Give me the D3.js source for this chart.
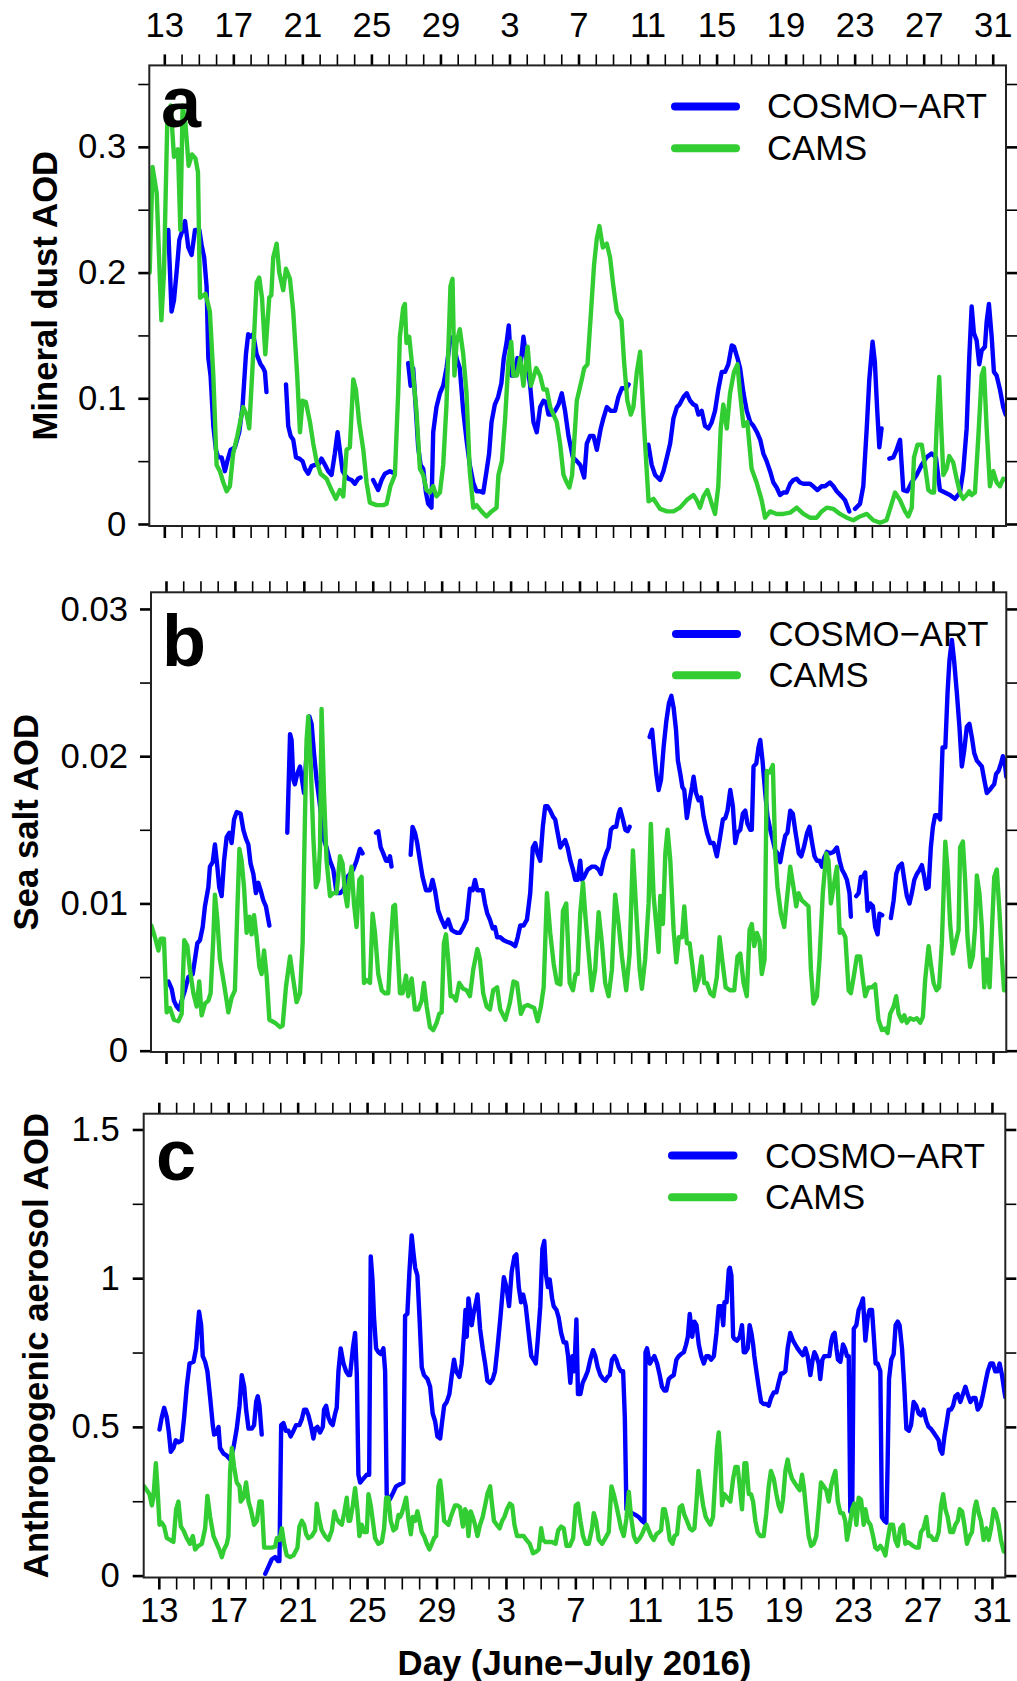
<!DOCTYPE html>
<meta charset="utf-8">
<style>
body { margin: 0; background: #fff; }
svg { display: block; font-family: "Liberation Sans", Arial, Helvetica, sans-serif; }
.axis path { display: none; }
.axis text { font-size: 34.7px; fill: #000; }
.axis .tick line { stroke: #000; }
.major .tick line { stroke-width: 2.6px; }
.minor .tick line { stroke-width: 1.6px; }
.frame { fill: none; stroke: #222; stroke-width: 2px; }
.series { fill: none; stroke-width: 4.4px; stroke-linejoin: round; stroke-linecap: round; }
.ytitle, .xtitle { font-size: 34.7px; font-weight: bold; }
.letter { font-size: 72px; font-weight: bold; }
.legend text { font-size: 34.7px; }
.legend line { stroke-width: 8px; stroke-linecap: round; }
</style>
<body>
<div id="chart"></div>
<script src="https://cdn.jsdelivr.net/npm/d3@7"></script>
<script>
// days counted from 13 June 2016 (=0) to 31 July (=48)
var dayTicks = [0, 4, 8, 12, 16, 20, 24, 28, 32, 36, 40, 44, 48];
var dayLabels = ["13", "17", "21", "25", "29", "3", "7", "11", "15", "19", "23", "27", "31"];
var seriesNames = ["COSMO\u2212ART", "CAMS"];
var seriesColors = ["#0000ff", "#32cd32"];

var dustTicks = [0, 0.1, 0.2, 0.3], dustLabels = ["0", "0.1", "0.2", "0.3"], dustMinor = [0.05, 0.15, 0.25, 0.35];
var saltTicks = [0, 0.01, 0.02, 0.03], saltLabels = ["0", "0.01", "0.02", "0.03"], saltMinor = [0.005, 0.015, 0.025];
var anthTicks = [0, 0.5, 1, 1.5], anthLabels = ["0", "0.5", "1", "1.5"], anthMinor = [0.25, 0.75, 1.25];

// [day, AOD]; null = gap in the model output
var dustCosmo = [[0.23,0.234],[0.42,0.169],[0.56,0.178],[0.71,0.2],[0.87,0.226],[1.06,0.234],[1.2,0.241],[1.39,0.22],[1.58,0.214],[1.78,0.234],[2.03,0.234],[2.16,0.222],[2.31,0.212],[2.45,0.189],[2.55,0.132],[2.68,0.118],[2.84,0.078],[2.99,0.059],[3.13,0.053],[3.32,0.053],[3.51,0.042],[3.65,0.05],[3.84,0.059],[4.09,0.061],[4.34,0.073],[4.53,0.093],[4.73,0.135],[4.86,0.151],[5.0,0.149],[5.15,0.151],[5.35,0.135],[5.58,0.127],[5.73,0.124],[5.83,0.121],[5.92,0.105],
  null,
  [7.05,0.111],[7.18,0.078],[7.32,0.07],[7.47,0.067],[7.63,0.053],[7.82,0.052],[8.01,0.05],[8.15,0.044],[8.34,0.04],[8.53,0.046],[8.73,0.047],[8.92,0.047],[9.11,0.052],[9.31,0.047],[9.5,0.042],[9.69,0.039],[9.88,0.056],[10.04,0.073],[10.17,0.059],[10.33,0.042],[10.46,0.039],[10.66,0.036],[10.85,0.035],[11.04,0.032],[11.23,0.036],[11.37,0.037],
  null,
  [12.1,0.035],[12.39,0.027],[12.59,0.035],[12.78,0.04],[13.07,0.042],[13.22,0.041],
  null,
  [14.13,0.128],[14.27,0.11],[14.42,0.124],[14.58,0.09],[14.71,0.061],[14.85,0.047],[15.0,0.044],[15.16,0.025],[15.29,0.016],[15.48,0.013],[15.58,0.073],[15.77,0.093],[15.97,0.104],[16.16,0.11],[16.35,0.124],[16.54,0.144],[16.74,0.149],[16.93,0.132],[17.12,0.124],[17.32,0.09],[17.51,0.067],[17.7,0.047],[17.9,0.033],[18.09,0.026],[18.28,0.026],[18.48,0.025],[18.67,0.042],[18.82,0.056],[18.96,0.081],[19.15,0.095],[19.34,0.101],[19.53,0.112],[19.67,0.132],[19.83,0.144],[19.96,0.158],[20.12,0.118],[20.27,0.118],[20.46,0.132],[20.66,0.129],[20.81,0.149],[21.0,0.129],[21.2,0.11],[21.39,0.081],[21.58,0.073],[21.78,0.093],[21.97,0.098],[22.12,0.097],[22.26,0.087],[22.45,0.087],[22.64,0.09],[22.84,0.095],[23.03,0.104],[23.22,0.09],[23.42,0.07],[23.67,0.053],[23.9,0.05],[24.1,0.047],[24.33,0.037],[24.48,0.064],[24.67,0.07],[24.87,0.07],[25.06,0.059],[25.29,0.076],[25.44,0.084],[25.64,0.093],[25.87,0.09],[26.12,0.09],[26.31,0.101],[26.51,0.108],[26.76,0.108],[26.9,0.111],
  null,
  [28.05,0.063],[28.24,0.047],[28.44,0.039],[28.73,0.035],[28.92,0.042],[29.12,0.053],[29.31,0.064],[29.5,0.084],[29.7,0.093],[29.85,0.095],[30.08,0.101],[30.27,0.104],[30.47,0.098],[30.66,0.095],[30.81,0.094],[30.95,0.087],[31.14,0.09],[31.33,0.078],[31.53,0.076],[31.72,0.081],[31.91,0.09],[32.1,0.107],[32.3,0.121],[32.49,0.121],[32.68,0.127],[32.88,0.142],[33.01,0.141],[33.21,0.132],[33.36,0.124],[33.56,0.104],[33.75,0.09],[33.95,0.081],[34.14,0.078],[34.34,0.073],[34.53,0.067],[34.71,0.056],[34.9,0.05],[35.1,0.042],[35.29,0.033],[35.48,0.029],[35.68,0.023],[35.87,0.025],[36.06,0.025],[36.26,0.032],[36.45,0.035],[36.64,0.036],[36.83,0.033],[37.03,0.032],[37.22,0.032],[37.41,0.032],[37.6,0.03],[37.84,0.027],[38.09,0.03],[38.28,0.03],[38.57,0.033],[38.77,0.03],[38.96,0.026],[39.25,0.022],[39.44,0.019],[39.69,0.01],
  null,
  [40.02,0.012],[40.31,0.016],[40.5,0.03],[40.7,0.076],[40.85,0.115],[41.04,0.145],[41.17,0.129],[41.31,0.09],[41.43,0.061],[41.56,0.076],
  null,
  [42.01,0.052],[42.24,0.053],[42.43,0.059],[42.63,0.067],[42.82,0.027],[43.05,0.026],[43.3,0.033],[43.59,0.039],[43.88,0.047],[44.17,0.053],[44.46,0.056],[44.71,0.053],[44.94,0.027],[45.23,0.025],[45.52,0.023],[45.81,0.02],[46.1,0.025],[46.29,0.042],[46.49,0.076],[46.64,0.132],[46.78,0.173],[46.91,0.152],[47.07,0.146],[47.22,0.127],[47.36,0.138],[47.55,0.141],[47.65,0.161],[47.78,0.175],[47.94,0.149],[48.07,0.121],[48.23,0.118],[48.42,0.107],[48.61,0.093],[48.75,0.087]];

var dustCams = [[-0.85,0.2],[-0.68,0.284],[-0.44,0.263],[-0.17,0.162],[-0.02,0.2],[0.17,0.319],[0.37,0.333],[0.56,0.292],[0.79,0.298],[0.93,0.234],[1.06,0.333],[1.22,0.319],[1.41,0.285],[1.6,0.294],[1.8,0.291],[1.95,0.28],[2.07,0.18],[2.39,0.183],[2.64,0.169],[2.84,0.118],[3.03,0.047],[3.22,0.042],[3.42,0.033],[3.61,0.026],[3.8,0.03],[3.99,0.056],[4.23,0.07],[4.57,0.093],[4.77,0.087],[4.92,0.076],[5.12,0.127],[5.35,0.192],[5.5,0.196],[5.66,0.18],[5.85,0.135],[6.08,0.18],[6.2,0.182],[6.31,0.212],[6.51,0.223],[6.66,0.2],[6.89,0.186],[7.05,0.203],[7.28,0.195],[7.47,0.169],[7.7,0.118],[7.86,0.073],[8.01,0.098],[8.2,0.097],[8.44,0.081],[8.63,0.064],[8.82,0.05],[9.05,0.04],[9.4,0.036],[9.69,0.027],[9.94,0.02],[10.17,0.027],[10.37,0.022],[10.56,0.059],[10.75,0.061],[10.95,0.115],[11.1,0.107],[11.29,0.081],[11.53,0.059],[11.72,0.033],[11.91,0.017],[12.3,0.015],[12.68,0.015],[12.88,0.016],[13.1,0.03],[13.36,0.039],[13.55,0.104],[13.65,0.149],[13.84,0.172],[13.94,0.175],[14.03,0.144],[14.19,0.149],[14.42,0.118],[14.61,0.09],[14.81,0.044],[15.0,0.039],[15.19,0.027],[15.39,0.025],[15.58,0.03],[15.77,0.022],[15.97,0.025],[16.16,0.047],[16.35,0.095],[16.47,0.144],[16.58,0.189],[16.7,0.195],[16.81,0.118],[16.93,0.144],[17.12,0.155],[17.32,0.135],[17.51,0.104],[17.7,0.042],[17.9,0.013],[18.09,0.015],[18.38,0.01],[18.67,0.006],[18.96,0.01],[19.25,0.013],[19.36,0.039],[19.56,0.05],[19.75,0.084],[19.94,0.13],[20.1,0.145],[20.23,0.118],[20.43,0.118],[20.62,0.132],[20.81,0.11],[21.05,0.141],[21.24,0.11],[21.55,0.124],[21.78,0.118],[21.97,0.107],[22.16,0.107],[22.36,0.093],[22.55,0.087],[22.74,0.081],[22.93,0.064],[23.13,0.039],[23.32,0.033],[23.47,0.029],[23.63,0.039],[23.9,0.098],[24.19,0.115],[24.33,0.124],[24.52,0.127],[24.71,0.166],[24.9,0.206],[25.06,0.227],[25.21,0.237],[25.41,0.22],[25.64,0.223],[25.83,0.212],[26.02,0.189],[26.22,0.169],[26.49,0.162],[26.64,0.129],[26.83,0.098],[27.03,0.087],[27.18,0.093],[27.38,0.121],[27.57,0.137],[27.77,0.084],[28.06,0.018],[28.34,0.02],[28.73,0.012],[29.12,0.01],[29.5,0.01],[29.88,0.013],[30.27,0.019],[30.66,0.023],[30.85,0.019],[31.04,0.013],[31.24,0.022],[31.47,0.027],[31.72,0.016],[31.91,0.008],[32.1,0.03],[32.24,0.076],[32.39,0.095],[32.59,0.076],[32.78,0.104],[33.01,0.121],[33.21,0.127],[33.36,0.104],[33.56,0.078],[33.78,0.081],[34.03,0.044],[34.32,0.033],[34.61,0.019],[34.81,0.005],[35.1,0.01],[35.48,0.008],[35.87,0.008],[36.26,0.009],[36.64,0.013],[37.03,0.008],[37.41,0.005],[37.8,0.005],[38.09,0.01],[38.38,0.013],[38.77,0.012],[39.15,0.008],[39.54,0.005],[39.92,0.003],[40.31,0.006],[40.7,0.008],[41.08,0.003],[41.47,0.001],[41.85,0.003],[42.14,0.016],[42.34,0.025],[42.63,0.019],[42.92,0.01],[43.11,0.006],[43.31,0.013],[43.44,0.053],[43.64,0.063],[43.89,0.063],[44.07,0.047],[44.27,0.027],[44.46,0.025],[44.6,0.025],[44.75,0.076],[44.9,0.117],[45.02,0.076],[45.14,0.039],[45.33,0.044],[45.48,0.054],[45.71,0.049],[45.91,0.036],[46.1,0.025],[46.29,0.02],[46.49,0.023],[46.64,0.026],[46.78,0.023],[46.97,0.025],[47.17,0.07],[47.36,0.118],[47.49,0.124],[47.65,0.076],[47.84,0.03],[48.03,0.042],[48.23,0.033],[48.42,0.03],[48.61,0.036],[48.77,0.035]];

var saltCosmo = [[0.14,0.0047],[0.33,0.0042],[0.46,0.0034],[0.62,0.003],[0.77,0.0028],[0.91,0.0034],[1.1,0.0041],[1.3,0.005],[1.55,0.0052],[1.68,0.0062],[1.82,0.0073],[1.97,0.0075],[2.13,0.0084],[2.26,0.0098],[2.46,0.0111],[2.55,0.0125],[2.71,0.0128],[2.84,0.014],[2.98,0.0125],[3.09,0.0111],[3.23,0.0105],[3.37,0.0129],[3.52,0.0145],[3.68,0.0148],[3.81,0.0141],[3.95,0.0157],[4.1,0.0162],[4.33,0.0161],[4.49,0.015],[4.64,0.0144],[4.78,0.014],[4.91,0.0127],[5.07,0.012],[5.22,0.0107],[5.36,0.0114],[5.49,0.0109],[5.65,0.0102],[5.8,0.0098],[6.0,0.0085],
  null,
  [7.04,0.0148],[7.2,0.0215],[7.29,0.0211],[7.39,0.0184],[7.48,0.0181],[7.62,0.0188],[7.78,0.0193],[7.87,0.0186],[8.01,0.0175],[8.16,0.0202],[8.32,0.0227],[8.45,0.0222],[8.59,0.0202],[8.74,0.0184],[8.9,0.017],[9.03,0.0157],[9.17,0.0143],[9.32,0.0138],[9.52,0.0129],[9.71,0.0123],[9.9,0.0107],[10.1,0.0107],[10.29,0.0109],[10.52,0.0118],[10.68,0.012],[10.87,0.0123],[11.06,0.0129],[11.26,0.0137],[11.41,0.0134],
  null,
  [12.19,0.0148],[12.32,0.0149],[12.46,0.0138],[12.61,0.0134],[12.77,0.0129],[12.9,0.0129],[13.0,0.0132],[13.09,0.0125],
  null,
  [14.2,0.0133],[14.31,0.0152],[14.45,0.0148],[14.58,0.0141],[14.74,0.0129],[14.89,0.0118],[15.09,0.0109],[15.32,0.0109],[15.47,0.0116],[15.61,0.0109],[15.8,0.0095],[15.99,0.0089],[16.19,0.0084],[16.38,0.0089],[16.58,0.0082],[16.71,0.0081],[16.9,0.008],[17.06,0.008],[17.25,0.0084],[17.45,0.0089],[17.64,0.011],[17.8,0.0109],[17.93,0.0116],[18.07,0.0109],[18.22,0.0109],[18.38,0.0109],[18.51,0.01],[18.65,0.0093],[18.8,0.0089],[18.96,0.0083],[19.09,0.0084],[19.22,0.0077],[19.4,0.0077],[19.6,0.0075],[19.79,0.0074],[20.02,0.0073],[20.27,0.0071],[20.41,0.0077],[20.56,0.0085],[20.75,0.0085],[20.95,0.0089],[21.14,0.0107],[21.29,0.0138],[21.43,0.0141],[21.56,0.0134],[21.72,0.0129],[21.87,0.0152],[22.01,0.0166],[22.14,0.0166],[22.3,0.0163],[22.46,0.0159],[22.59,0.0157],[22.73,0.0148],[22.89,0.0138],[23.04,0.0141],[23.17,0.0143],[23.31,0.0138],[23.47,0.0129],[23.62,0.0123],[23.75,0.0116],[23.89,0.0116],[24.04,0.0129],[24.14,0.0116],[24.27,0.0118],[24.47,0.0123],[24.72,0.0125],[24.91,0.0125],[25.11,0.0123],[25.24,0.012],[25.4,0.0129],[25.55,0.0134],[25.69,0.0138],[25.82,0.015],[25.97,0.0152],[26.13,0.0152],[26.27,0.0161],[26.36,0.0164],[26.52,0.0157],[26.66,0.015],[26.79,0.0149],[26.91,0.0152],
  null,
  [28.07,0.0213],[28.21,0.0218],[28.34,0.0202],[28.46,0.0188],[28.59,0.0177],[28.73,0.0184],[28.88,0.0206],[29.04,0.0224],[29.19,0.0236],[29.33,0.0241],[29.46,0.0233],[29.6,0.0218],[29.71,0.0197],[29.85,0.0188],[29.97,0.0179],[30.08,0.0177],[30.23,0.0158],[30.39,0.017],[30.53,0.0179],[30.62,0.0186],[30.76,0.0175],[30.91,0.017],[31.05,0.0172],[31.2,0.0159],[31.4,0.0148],[31.59,0.0141],[31.78,0.0141],[31.97,0.0132],[32.13,0.0143],[32.32,0.0157],[32.46,0.0158],[32.59,0.0163],[32.75,0.0177],[32.9,0.0166],[33.04,0.0141],[33.17,0.0148],[33.33,0.015],[33.48,0.0161],[33.62,0.0163],[33.75,0.0154],[33.91,0.015],[34.0,0.015],[34.1,0.0193],[34.26,0.0195],[34.39,0.0206],[34.49,0.0211],[34.62,0.0197],[34.78,0.0175],[34.91,0.0159],[35.07,0.015],[35.22,0.0143],[35.36,0.0136],[35.49,0.0134],[35.65,0.0128],[35.8,0.0138],[35.94,0.0146],[36.07,0.0148],[36.23,0.0163],[36.38,0.0161],[36.54,0.0148],[36.73,0.0134],[36.87,0.0132],[37.02,0.0138],[37.21,0.0148],[37.35,0.0152],[37.5,0.0141],[37.64,0.0132],[37.78,0.0129],[37.93,0.0129],[38.07,0.0125],[38.2,0.0131],[38.36,0.0135],[38.55,0.0134],[38.74,0.0135],[38.94,0.0138],[39.1,0.0129],[39.23,0.0123],[39.37,0.012],[39.52,0.0116],[39.67,0.0107],[39.75,0.0091],
  null,
  [40.06,0.0105],[40.2,0.0107],[40.33,0.0118],[40.45,0.0118],[40.58,0.0121],[40.72,0.0095],[40.87,0.01],[41.03,0.0098],[41.16,0.0084],[41.3,0.0079],[41.41,0.0093],[41.57,0.0092],
  null,
  [42.07,0.009],[42.23,0.0102],[42.38,0.012],[42.52,0.0125],[42.71,0.0127],[42.85,0.0116],[43.0,0.0105],[43.15,0.01],[43.29,0.0107],[43.43,0.0116],[43.58,0.012],[43.74,0.0123],[43.87,0.0126],[44.01,0.0118],[44.12,0.011],[44.26,0.0111],[44.39,0.0138],[44.51,0.0152],[44.64,0.016],[44.78,0.016],[44.93,0.0157],[45.07,0.0206],[45.23,0.0206],[45.36,0.0243],[45.47,0.0265],[45.61,0.0279],[45.74,0.0265],[45.9,0.0243],[46.05,0.022],[46.19,0.0193],[46.33,0.0204],[46.48,0.022],[46.63,0.0222],[46.77,0.0213],[46.91,0.0202],[47.06,0.0197],[47.21,0.0195],[47.35,0.0193],[47.49,0.0184],[47.64,0.0175],[47.8,0.0177],[47.93,0.0179],[48.07,0.0181],[48.18,0.0188],[48.32,0.019],[48.46,0.0195],[48.57,0.02],[48.67,0.0197],[48.77,0.0186]];

var saltCams = [[-0.85,0.0085],[-0.64,0.0077],[-0.44,0.0068],[-0.31,0.0076],[-0.12,0.0076],[0.04,0.0026],[0.23,0.0029],[0.46,0.0021],[0.72,0.002],[0.91,0.0025],[1.06,0.0075],[1.24,0.0071],[1.39,0.0055],[1.59,0.0039],[1.78,0.003],[1.93,0.0047],[2.07,0.0024],[2.26,0.0032],[2.46,0.0034],[2.59,0.0039],[2.75,0.0077],[2.84,0.0106],[2.98,0.0089],[3.13,0.0062],[3.33,0.0048],[3.52,0.0034],[3.62,0.0026],[3.81,0.0036],[4.0,0.0041],[4.14,0.0095],[4.26,0.0137],[4.39,0.0129],[4.53,0.0111],[4.68,0.008],[4.84,0.0091],[4.97,0.0079],[5.11,0.0092],[5.26,0.0077],[5.42,0.0057],[5.55,0.0052],[5.69,0.0068],[5.84,0.0051],[6.0,0.0021],[6.32,0.0019],[6.62,0.0016],[6.77,0.0017],[6.96,0.0043],[7.2,0.0064],[7.39,0.0048],[7.58,0.0033],[7.78,0.0039],[7.93,0.0073],[8.07,0.0161],[8.16,0.0211],[8.26,0.0227],[8.39,0.0197],[8.55,0.0145],[8.7,0.0111],[8.84,0.0116],[8.94,0.0138],[9.03,0.0232],[9.17,0.0175],[9.32,0.0129],[9.52,0.0105],[9.71,0.0107],[9.9,0.0107],[10.1,0.0132],[10.25,0.0127],[10.39,0.0107],[10.52,0.0098],[10.64,0.0116],[10.77,0.0125],[10.91,0.01],[11.06,0.0084],[11.22,0.0116],[11.35,0.0118],[11.49,0.0046],[11.64,0.0048],[11.84,0.0046],[11.99,0.0093],[12.13,0.008],[12.32,0.0052],[12.52,0.0041],[12.71,0.0039],[12.9,0.0039],[13.04,0.0071],[13.19,0.0098],[13.29,0.0099],[13.42,0.0073],[13.58,0.0039],[13.73,0.0039],[13.93,0.0051],[14.06,0.0037],[14.26,0.0049],[14.45,0.0028],[14.64,0.0028],[14.84,0.0034],[14.97,0.0046],[15.13,0.003],[15.32,0.0016],[15.51,0.0014],[15.71,0.0019],[15.86,0.0025],[16.0,0.0026],[16.13,0.0073],[16.25,0.0079],[16.38,0.0062],[16.52,0.0037],[16.67,0.0037],[16.83,0.0034],[17.02,0.0046],[17.25,0.0042],[17.45,0.0041],[17.64,0.0037],[17.83,0.0055],[18.07,0.0069],[18.22,0.0062],[18.41,0.0039],[18.61,0.003],[18.8,0.0028],[18.99,0.0041],[19.22,0.0043],[19.4,0.0028],[19.7,0.0021],[19.95,0.0032],[20.17,0.0047],[20.37,0.0046],[20.6,0.0025],[20.79,0.003],[20.99,0.0031],[21.18,0.003],[21.37,0.0029],[21.57,0.002],[21.76,0.003],[21.92,0.0043],[22.11,0.0107],[22.3,0.008],[22.5,0.0059],[22.69,0.0046],[22.89,0.0045],[23.04,0.0095],[23.23,0.01],[23.43,0.0046],[23.62,0.0041],[23.77,0.0052],[23.89,0.0052],[24.04,0.0093],[24.2,0.0114],[24.33,0.0093],[24.53,0.0066],[24.72,0.0041],[24.91,0.0055],[25.11,0.0094],[25.3,0.0073],[25.49,0.0046],[25.69,0.0037],[25.88,0.0055],[26.07,0.0106],[26.27,0.0086],[26.46,0.0064],[26.71,0.0041],[26.91,0.0066],[27.1,0.0136],[27.29,0.0095],[27.49,0.0055],[27.62,0.0042],[27.81,0.0062],[28.01,0.01],[28.14,0.0154],[28.3,0.0105],[28.45,0.0086],[28.59,0.0067],[28.69,0.0105],[28.84,0.0086],[28.98,0.0134],[29.11,0.015],[29.27,0.0129],[29.46,0.0082],[29.62,0.006],[29.77,0.0077],[29.95,0.0077],[30.08,0.0098],[30.23,0.0073],[30.39,0.0073],[30.54,0.0059],[30.72,0.0041],[30.91,0.0048],[31.09,0.0064],[31.24,0.0046],[31.39,0.0046],[31.59,0.0039],[31.78,0.0037],[31.97,0.005],[32.13,0.0077],[32.28,0.0062],[32.48,0.0043],[32.75,0.0041],[32.98,0.0041],[33.17,0.0064],[33.33,0.0066],[33.52,0.0046],[33.71,0.0037],[33.87,0.0082],[34.0,0.0086],[34.14,0.0071],[34.29,0.008],[34.45,0.0075],[34.58,0.0052],[34.74,0.0062],[34.87,0.019],[35.03,0.0189],[35.22,0.0194],[35.36,0.0134],[35.49,0.0111],[35.69,0.0093],[35.88,0.0084],[36.03,0.0102],[36.23,0.0125],[36.42,0.0111],[36.58,0.0098],[36.71,0.0107],[36.91,0.0102],[37.1,0.01],[37.29,0.0098],[37.43,0.0055],[37.58,0.0032],[37.78,0.0037],[37.93,0.0062],[38.12,0.0107],[38.32,0.0134],[38.45,0.0129],[38.59,0.01],[38.74,0.0111],[38.94,0.0125],[39.1,0.008],[39.23,0.0082],[39.43,0.0077],[39.62,0.0041],[39.75,0.0039],[39.91,0.005],[40.1,0.0064],[40.29,0.0064],[40.45,0.0048],[40.58,0.0037],[40.77,0.0043],[40.97,0.0043],[41.16,0.0045],[41.35,0.0021],[41.55,0.0014],[41.74,0.0015],[41.88,0.0012],[42.03,0.0025],[42.23,0.003],[42.38,0.0037],[42.52,0.0025],[42.71,0.002],[42.85,0.0024],[43.0,0.0019],[43.19,0.0022],[43.39,0.0021],[43.58,0.0022],[43.77,0.0019],[43.93,0.0023],[44.06,0.0048],[44.26,0.0071],[44.39,0.0059],[44.55,0.0046],[44.72,0.0041],[44.87,0.0043],[45.03,0.0073],[45.23,0.0142],[45.36,0.0123],[45.51,0.0086],[45.67,0.0066],[45.86,0.0075],[46.0,0.0082],[46.09,0.0138],[46.25,0.0142],[46.38,0.0116],[46.52,0.0077],[46.67,0.0057],[46.83,0.0064],[46.96,0.0084],[47.06,0.0119],[47.21,0.0107],[47.35,0.0084],[47.49,0.0043],[47.64,0.0062],[47.8,0.0043],[47.93,0.008],[48.07,0.0118],[48.22,0.0123],[48.37,0.0095],[48.51,0.0064],[48.64,0.0041],[48.77,0.0041]];

var anthCosmo = [[0.04,0.491],[0.17,0.532],[0.31,0.564],[0.46,0.532],[0.58,0.481],[0.69,0.416],[0.84,0.429],[0.98,0.455],[1.13,0.448],[1.32,0.455],[1.46,0.532],[1.61,0.635],[1.77,0.713],[2.0,0.719],[2.15,0.764],[2.25,0.842],[2.32,0.887],[2.44,0.842],[2.53,0.738],[2.67,0.719],[2.8,0.687],[2.96,0.597],[3.11,0.506],[3.19,0.474],[3.34,0.481],[3.44,0.5],[3.53,0.429],[3.73,0.41],[3.92,0.403],[4.11,0.39],[4.3,0.429],[4.49,0.494],[4.65,0.571],[4.78,0.674],[4.92,0.635],[5.03,0.558],[5.17,0.494],[5.36,0.494],[5.49,0.506],[5.61,0.584],[5.7,0.603],[5.8,0.571],[5.93,0.474],
  null,
  [6.13,0.006],[6.32,0.03],[6.51,0.055],[6.7,0.062],[6.86,0.049],[6.95,0.049],[7.05,0.506],[7.18,0.513],[7.32,0.487],[7.47,0.487],[7.6,0.468],[7.76,0.487],[7.91,0.506],[8.1,0.506],[8.24,0.526],[8.37,0.558],[8.49,0.558],[8.62,0.539],[8.76,0.506],[8.91,0.461],[9.01,0.494],[9.14,0.5],[9.29,0.481],[9.45,0.5],[9.52,0.558],[9.64,0.571],[9.77,0.532],[9.91,0.513],[10.02,0.506],[10.16,0.545],[10.25,0.564],[10.35,0.687],[10.48,0.764],[10.64,0.713],[10.79,0.687],[10.93,0.674],[11.02,0.674],[11.18,0.764],[11.31,0.816],[11.41,0.674],[11.5,0.339],[11.6,0.313],[11.79,0.326],[11.98,0.339],[12.12,0.339],[12.21,1.073],[12.31,0.996],[12.4,0.867],[12.52,0.764],[12.65,0.751],[12.79,0.745],[12.94,0.764],[13.04,0.687],[13.13,0.274],[13.23,0.249],[13.36,0.262],[13.52,0.281],[13.67,0.3],[13.9,0.307],[14.09,0.313],[14.19,0.874],[14.32,0.88],[14.44,1.022],[14.57,1.144],[14.67,1.086],[14.77,1.035],[14.9,1.009],[15.02,0.867],[15.15,0.7],[15.28,0.674],[15.48,0.661],[15.63,0.635],[15.78,0.545],[15.92,0.519],[16.05,0.468],[16.21,0.461],[16.3,0.506],[16.44,0.571],[16.59,0.584],[16.74,0.61],[16.88,0.674],[17.01,0.726],[17.13,0.687],[17.32,0.668],[17.45,0.713],[17.59,0.816],[17.67,0.893],[17.74,0.803],[17.84,0.932],[17.93,0.893],[18.03,0.842],[18.13,0.88],[18.28,0.919],[18.36,0.945],[18.51,0.829],[18.66,0.764],[18.8,0.713],[18.93,0.655],[19.09,0.648],[19.24,0.661],[19.37,0.687],[19.51,0.764],[19.68,0.867],[19.88,1.003],[20.03,0.97],[20.18,0.906],[20.33,1.022],[20.49,1.073],[20.6,1.08],[20.74,0.97],[20.87,0.919],[20.99,0.945],[21.14,0.906],[21.31,0.816],[21.46,0.738],[21.6,0.726],[21.72,0.713],[21.83,0.79],[21.98,0.906],[22.1,1.099],[22.21,1.125],[22.31,1.009],[22.42,0.97],[22.52,0.996],[22.66,0.932],[22.75,0.906],[22.91,0.893],[23.04,0.867],[23.18,0.816],[23.33,0.784],[23.47,0.784],[23.58,0.738],[23.71,0.648],[23.83,0.738],[23.94,0.687],[24.06,0.861],[24.15,0.61],[24.29,0.61],[24.42,0.648],[24.58,0.668],[24.71,0.687],[24.86,0.726],[25.02,0.758],[25.15,0.738],[25.29,0.7],[25.44,0.674],[25.6,0.661],[25.73,0.655],[25.86,0.668],[25.98,0.674],[26.11,0.726],[26.25,0.738],[26.36,0.726],[26.5,0.7],[26.63,0.687],[26.75,0.687],[26.85,0.532],[26.94,0.223],[27.08,0.216],[27.27,0.21],[27.46,0.204],[27.65,0.197],[27.84,0.184],[27.98,0.178],[28.04,0.751],[28.13,0.764],[28.29,0.713],[28.42,0.726],[28.55,0.738],[28.71,0.713],[28.86,0.674],[28.99,0.635],[29.13,0.622],[29.24,0.622],[29.38,0.661],[29.51,0.668],[29.67,0.674],[29.82,0.726],[29.96,0.738],[30.09,0.745],[30.25,0.751],[30.38,0.777],[30.48,0.803],[30.59,0.88],[30.73,0.803],[30.86,0.854],[30.98,0.842],[31.11,0.777],[31.25,0.738],[31.4,0.713],[31.55,0.738],[31.68,0.738],[31.82,0.726],[31.98,0.738],[32.13,0.816],[32.26,0.906],[32.4,0.906],[32.52,0.842],[32.59,0.919],[32.71,0.919],[32.84,1.028],[32.9,1.035],[32.99,1.009],[33.09,0.803],[33.16,0.796],[33.31,0.79],[33.47,0.803],[33.6,0.842],[33.7,0.751],[33.79,0.751],[33.93,0.764],[34.04,0.842],[34.14,0.816],[34.24,0.777],[34.31,0.738],[34.43,0.687],[34.56,0.635],[34.7,0.584],[34.85,0.577],[35.0,0.577],[35.14,0.571],[35.27,0.597],[35.43,0.616],[35.58,0.616],[35.71,0.648],[35.85,0.68],[35.96,0.68],[36.1,0.687],[36.23,0.764],[36.38,0.816],[36.54,0.79],[36.67,0.777],[36.8,0.764],[36.96,0.751],[37.11,0.741],[37.25,0.764],[37.38,0.738],[37.54,0.674],[37.67,0.726],[37.77,0.751],[37.88,0.738],[38.02,0.713],[38.11,0.661],[38.23,0.726],[38.34,0.738],[38.5,0.738],[38.63,0.738],[38.75,0.79],[38.84,0.809],[38.94,0.816],[39.04,0.764],[39.13,0.726],[39.27,0.719],[39.42,0.777],[39.53,0.764],[39.65,0.738],[39.75,0.738],[39.84,0.215],[39.95,0.22],[40.04,0.83],[40.19,0.842],[40.32,0.893],[40.46,0.912],[40.57,0.932],[40.71,0.79],[40.84,0.867],[40.95,0.893],[41.09,0.893],[41.18,0.816],[41.3,0.713],[41.41,0.713],[41.57,0.687],[41.66,0.197],[41.8,0.184],[41.92,0.178],[41.99,0.378],[42.07,0.661],[42.2,0.726],[42.34,0.745],[42.45,0.842],[42.57,0.854],[42.68,0.842],[42.82,0.764],[42.95,0.635],[43.07,0.494],[43.22,0.487],[43.34,0.506],[43.49,0.584],[43.64,0.571],[43.78,0.545],[43.91,0.539],[44.06,0.558],[44.22,0.519],[44.35,0.5],[44.48,0.494],[44.64,0.481],[44.79,0.468],[44.93,0.455],[45.02,0.423],[45.14,0.41],[45.26,0.468],[45.37,0.506],[45.51,0.558],[45.64,0.558],[45.76,0.571],[45.89,0.603],[46.03,0.61],[46.18,0.584],[46.33,0.61],[46.47,0.635],[46.6,0.61],[46.76,0.584],[46.91,0.597],[47.05,0.597],[47.18,0.558],[47.34,0.571],[47.49,0.61],[47.62,0.648],[47.76,0.687],[47.91,0.713],[48.06,0.713],[48.19,0.687],[48.33,0.687],[48.44,0.713],[48.58,0.674],[48.71,0.622],[48.77,0.6]];

var anthCams = [[-0.85,0.3],[-0.69,0.287],[-0.54,0.274],[-0.4,0.236],[-0.31,0.262],[-0.17,0.378],[-0.08,0.3],[0.04,0.171],[0.17,0.178],[0.31,0.165],[0.46,0.126],[0.65,0.12],[0.84,0.113],[1.0,0.223],[1.13,0.249],[1.27,0.165],[1.42,0.152],[1.61,0.126],[1.8,0.107],[1.96,0.133],[2.09,0.088],[2.28,0.1],[2.48,0.107],[2.67,0.159],[2.8,0.268],[2.96,0.197],[3.15,0.133],[3.34,0.107],[3.53,0.081],[3.63,0.062],[3.76,0.088],[3.92,0.107],[4.01,0.133],[4.11,0.352],[4.21,0.429],[4.34,0.365],[4.49,0.313],[4.65,0.3],[4.72,0.249],[4.88,0.262],[5.03,0.313],[5.17,0.249],[5.3,0.223],[5.49,0.171],[5.65,0.184],[5.8,0.249],[5.93,0.249],[6.07,0.094],[6.22,0.094],[6.51,0.094],[6.7,0.097],[6.8,0.126],[6.95,0.12],[7.09,0.159],[7.22,0.107],[7.37,0.068],[7.57,0.062],[7.76,0.068],[7.99,0.094],[8.1,0.165],[8.24,0.184],[8.37,0.171],[8.49,0.139],[8.62,0.126],[8.81,0.133],[9.01,0.152],[9.1,0.242],[9.26,0.184],[9.39,0.152],[9.58,0.133],[9.77,0.12],[9.97,0.152],[10.12,0.216],[10.25,0.191],[10.41,0.178],[10.54,0.171],[10.68,0.21],[10.83,0.262],[10.93,0.184],[11.02,0.184],[11.18,0.236],[11.31,0.294],[11.44,0.223],[11.56,0.133],[11.69,0.171],[11.83,0.146],[11.98,0.146],[12.08,0.274],[12.21,0.236],[12.33,0.184],[12.46,0.126],[12.65,0.107],[12.85,0.113],[12.98,0.159],[13.1,0.262],[13.23,0.262],[13.36,0.184],[13.52,0.152],[13.67,0.159],[13.81,0.204],[13.9,0.197],[14.0,0.21],[14.13,0.236],[14.25,0.262],[14.38,0.191],[14.52,0.139],[14.63,0.197],[14.77,0.184],[14.9,0.216],[15.02,0.184],[15.15,0.146],[15.28,0.133],[15.44,0.107],[15.59,0.088],[15.73,0.107],[15.86,0.126],[15.98,0.133],[16.11,0.3],[16.21,0.32],[16.3,0.274],[16.44,0.184],[16.55,0.178],[16.69,0.171],[16.82,0.197],[16.94,0.216],[17.07,0.236],[17.21,0.236],[17.36,0.229],[17.52,0.165],[17.65,0.223],[17.74,0.21],[17.84,0.133],[17.97,0.216],[18.09,0.197],[18.22,0.171],[18.36,0.133],[18.51,0.171],[18.66,0.197],[18.8,0.236],[18.93,0.274],[19.09,0.3],[19.18,0.249],[19.31,0.184],[19.47,0.171],[19.64,0.159],[19.78,0.184],[19.91,0.197],[20.06,0.223],[20.22,0.242],[20.36,0.236],[20.49,0.171],[20.64,0.133],[20.83,0.133],[21.02,0.133],[21.18,0.12],[21.37,0.107],[21.56,0.075],[21.76,0.081],[21.89,0.088],[22.03,0.159],[22.14,0.12],[22.28,0.113],[22.47,0.113],[22.66,0.113],[22.86,0.107],[23.01,0.152],[23.18,0.165],[23.33,0.159],[23.49,0.1],[23.68,0.1],[23.87,0.126],[24.02,0.236],[24.15,0.242],[24.29,0.184],[24.44,0.133],[24.6,0.107],[24.77,0.107],[24.96,0.159],[25.06,0.21],[25.19,0.184],[25.35,0.12],[25.54,0.107],[25.73,0.126],[25.92,0.146],[26.08,0.3],[26.21,0.274],[26.36,0.236],[26.5,0.197],[26.63,0.159],[26.79,0.133],[26.94,0.191],[27.08,0.281],[27.21,0.197],[27.37,0.133],[27.52,0.113],[27.71,0.126],[27.84,0.139],[27.98,0.159],[28.1,0.171],[28.23,0.152],[28.36,0.133],[28.52,0.12],[28.67,0.139],[28.82,0.146],[28.94,0.152],[29.05,0.223],[29.15,0.223],[29.29,0.184],[29.44,0.12],[29.6,0.107],[29.71,0.133],[29.86,0.139],[30.01,0.229],[30.15,0.236],[30.28,0.204],[30.43,0.184],[30.59,0.159],[30.73,0.152],[30.86,0.159],[30.98,0.249],[31.09,0.352],[31.2,0.3],[31.36,0.236],[31.51,0.197],[31.63,0.184],[31.78,0.171],[31.93,0.197],[32.07,0.339],[32.16,0.429],[32.26,0.481],[32.35,0.403],[32.45,0.236],[32.58,0.274],[32.74,0.262],[32.93,0.249],[33.09,0.326],[33.22,0.365],[33.35,0.365],[33.47,0.3],[33.6,0.223],[33.74,0.378],[33.85,0.378],[33.99,0.274],[34.12,0.274],[34.24,0.249],[34.37,0.184],[34.5,0.146],[34.66,0.133],[34.85,0.133],[35.0,0.21],[35.14,0.3],[35.27,0.352],[35.43,0.326],[35.58,0.274],[35.71,0.236],[35.85,0.216],[35.96,0.255],[36.1,0.352],[36.23,0.39],[36.35,0.352],[36.48,0.326],[36.62,0.313],[36.77,0.3],[36.93,0.287],[37.06,0.339],[37.16,0.3],[37.31,0.21],[37.44,0.133],[37.58,0.1],[37.73,0.107],[37.88,0.133],[38.02,0.223],[38.15,0.313],[38.31,0.3],[38.46,0.287],[38.6,0.249],[38.73,0.3],[38.84,0.326],[38.98,0.352],[39.12,0.249],[39.27,0.21],[39.42,0.21],[39.55,0.184],[39.65,0.12],[39.81,0.171],[39.94,0.223],[40.07,0.242],[40.19,0.171],[40.32,0.262],[40.46,0.255],[40.61,0.171],[40.71,0.223],[40.84,0.184],[41.0,0.171],[41.15,0.133],[41.28,0.094],[41.41,0.088],[41.57,0.1],[41.72,0.088],[41.86,0.068],[41.99,0.12],[42.14,0.171],[42.3,0.171],[42.43,0.12],[42.57,0.1],[42.72,0.159],[42.88,0.171],[43.01,0.107],[43.14,0.113],[43.3,0.107],[43.45,0.1],[43.64,0.094],[43.78,0.094],[43.91,0.146],[44.06,0.159],[44.22,0.197],[44.35,0.133],[44.48,0.133],[44.64,0.12],[44.79,0.12],[44.93,0.146],[45.07,0.236],[45.19,0.274],[45.32,0.223],[45.45,0.197],[45.6,0.146],[45.76,0.146],[45.89,0.171],[46.03,0.184],[46.14,0.223],[46.28,0.216],[46.41,0.171],[46.56,0.107],[46.72,0.133],[46.85,0.146],[46.99,0.223],[47.1,0.249],[47.24,0.21],[47.37,0.184],[47.52,0.12],[47.68,0.159],[47.81,0.12],[47.95,0.159],[48.1,0.223],[48.23,0.21],[48.39,0.171],[48.52,0.12],[48.68,0.081],[48.77,0.08]];

// panel frames measured on the original figure (pixels)
var panels = [
  {letter: "a", title: "Mineral dust AOD", series: [dustCosmo, dustCams],
   ticks: dustTicks, labels: dustLabels, minor: dustMinor, yDomain: [-0.0016, 0.3648],
   left: 149.3, right: 1006, top: 65.4, bottom: 526, titleX: 57, labelPad: 12,
   letterPos: [161, 127], legend: {x1: 675, x2: 736, tx: 767, y: [106.4, 148.2]},
   topLabels: true, bottomLabels: false},
  {letter: "b", title: "Sea salt AOD", series: [saltCosmo, saltCams],
   ticks: saltTicks, labels: saltLabels, minor: saltMinor, yDomain: [-0.00009, 0.03113],
   left: 151, right: 1006.3, top: 592.3, bottom: 1052, titleX: 38, labelPad: 12,
   letterPos: [162, 666], legend: {x1: 676, x2: 737, tx: 768.5, y: [634, 675.3]},
   topLabels: false, bottomLabels: false},
  {letter: "c", title: "Anthropogenic aerosol AOD", series: [anthCosmo, anthCams],
   ticks: anthTicks, labels: anthLabels, minor: anthMinor, yDomain: [-0.0064, 1.553],
   left: 143.7, right: 1005.3, top: 1113.7, bottom: 1577.5, titleX: 48, labelPad: 13,
   letterPos: [156, 1180], legend: {x1: 672, x2: 733.5, tx: 765, y: [1155.5, 1197.3]},
   topLabels: false, bottomLabels: true}
];
var dayDomain = [-0.87, 48.77];

var svg = d3.select("#chart").append("svg")
    .attr("width", 1017)
    .attr("height", 1681);

var minorDays = d3.range(0, 49).filter(function(d) { return d % 4 !== 0; });

function addAxis(axis, cls, transform) {
  svg.append("g")
      .attr("class", "axis " + cls)
      .attr("transform", transform)
      .call(axis);
}

panels.forEach(function(p, i) {
  var x = d3.scaleLinear().domain(dayDomain).range([p.left, p.right]);
  var y = d3.scaleLinear().domain(p.yDomain).range([p.bottom, p.top]);

  // x ticks on top and bottom
  addAxis(d3.axisTop(x).tickValues(dayTicks).tickSize(11).tickPadding(17)
      .tickFormat(function(d, j) { return p.topLabels ? dayLabels[j] : ""; }),
      "major", "translate(0," + p.top + ")");
  addAxis(d3.axisTop(x).tickValues(minorDays).tickSize(11).tickFormat(""),
      "minor", "translate(0," + p.top + ")");
  addAxis(d3.axisBottom(x).tickValues(dayTicks).tickSize(12).tickPadding(8)
      .tickFormat(function(d, j) { return p.bottomLabels ? dayLabels[j] : ""; }),
      "major", "translate(0," + p.bottom + ")");
  addAxis(d3.axisBottom(x).tickValues(minorDays).tickSize(12).tickFormat(""),
      "minor", "translate(0," + p.bottom + ")");

  // y ticks left (labelled) and right
  addAxis(d3.axisLeft(y).tickValues(p.ticks).tickSize(11).tickPadding(p.labelPad)
      .tickFormat(function(d, j) { return p.labels[j]; }),
      "major", "translate(" + p.left + ",0)");
  addAxis(d3.axisLeft(y).tickValues(p.minor).tickSize(11).tickFormat(""),
      "minor", "translate(" + p.left + ",0)");
  addAxis(d3.axisRight(y).tickValues(p.ticks).tickSize(11).tickFormat(""),
      "major", "translate(" + p.right + ",0)");
  addAxis(d3.axisRight(y).tickValues(p.minor).tickSize(11).tickFormat(""),
      "minor", "translate(" + p.right + ",0)");

  svg.append("clipPath").attr("id", "clip" + i)
    .append("rect")
      .attr("x", p.left).attr("y", p.top)
      .attr("width", p.right - p.left).attr("height", p.bottom - p.top);

  var line = d3.line()
      .defined(function(d) { return d !== null; })
      .x(function(d) { return x(d[0]); })
      .y(function(d) { return y(d[1]); });

  var plot = svg.append("g").attr("clip-path", "url(#clip" + i + ")");
  p.series.forEach(function(s, k) {
    plot.append("path")
        .datum(s)
        .attr("class", "series")
        .attr("stroke", seriesColors[k])
        .attr("d", line);
  });

  svg.append("rect")
      .attr("class", "frame")
      .attr("x", p.left).attr("y", p.top)
      .attr("width", p.right - p.left).attr("height", p.bottom - p.top);

  svg.append("text")
      .attr("class", "letter")
      .attr("x", p.letterPos[0]).attr("y", p.letterPos[1])
      .text(p.letter);

  svg.append("text")
      .attr("class", "ytitle")
      .attr("text-anchor", "middle")
      .attr("transform", "translate(" + p.titleX + "," + (p.top + p.bottom) / 2 + ")rotate(-90)")
      .text(p.title);

  var legend = svg.append("g").attr("class", "legend");
  seriesNames.forEach(function(name, k) {
    legend.append("line")
        .attr("x1", p.legend.x1).attr("x2", p.legend.x2)
        .attr("y1", p.legend.y[k]).attr("y2", p.legend.y[k])
        .attr("stroke", seriesColors[k]);
    legend.append("text")
        .attr("x", p.legend.tx)
        .attr("y", p.legend.y[k] + 12)
        .text(name);
  });
});

svg.append("text")
    .attr("class", "xtitle")
    .attr("text-anchor", "middle")
    .attr("x", (panels[2].left + panels[2].right) / 2)
    .attr("y", 1675)
    .text("Day (June\u2212July 2016)");
</script>
